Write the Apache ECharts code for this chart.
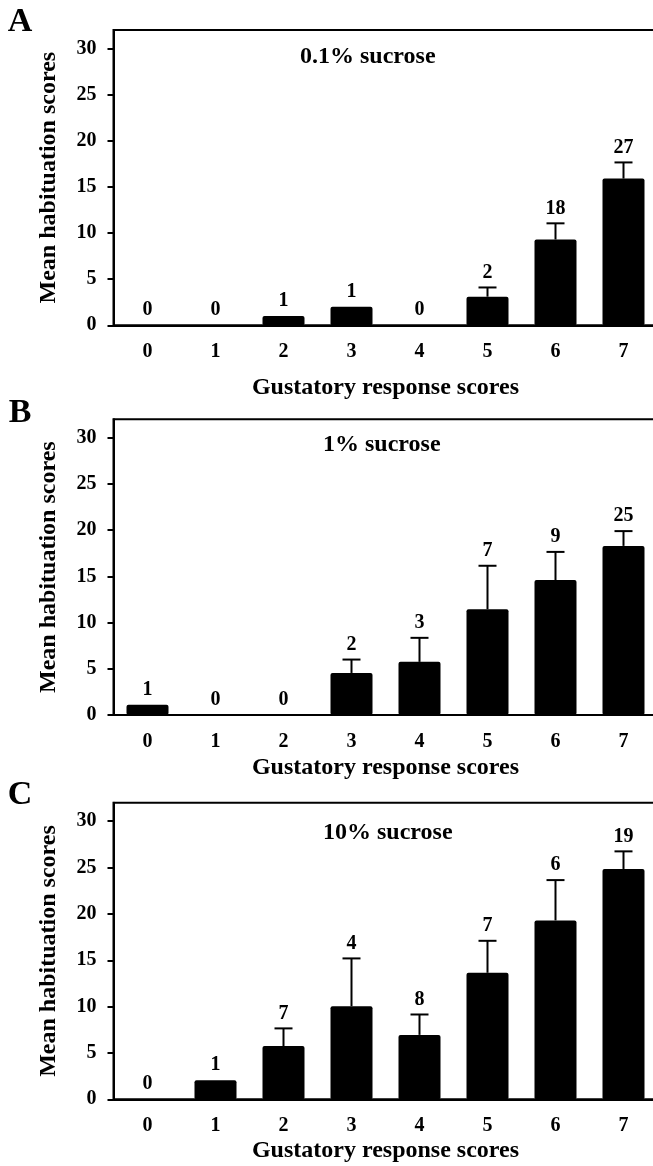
<!DOCTYPE html>
<html>
<head>
<meta charset="utf-8">
<script src="https://cdn.jsdelivr.net/npm/echarts@6/dist/echarts.min.js"></script>
<style>
  html, body { margin: 0; padding: 0; background: #fff; }
  #chart { width: 653px; height: 1166px; }
</style>
</head>
<body>
<div id="chart"></div>
<script>
// gustatory response score categories
const scores = ['0', '1', '2', '3', '4', '5', '6', '7'];
const yTicks = [0, 5, 10, 15, 20, 25, 30];

// A: 0.1% sucrose
const meanA = [0, 0, 1.0, 2.0, 0, 3.1, 9.3, 15.9];
const errA = [0, 0, 0, 0, 0, 1.0, 1.75, 1.75];
const nA = [0, 0, 1, 1, 0, 2, 18, 27];

// B: 1% sucrose
const meanB = [1.1, 0, 0, 4.55, 5.75, 11.45, 14.6, 18.3];
const errB = [0, 0, 0, 1.45, 2.6, 4.7, 3.05, 1.6];
const nB = [1, 0, 0, 2, 3, 7, 9, 25];

// C: 10% sucrose
const meanC = [0, 2.05, 5.75, 10.05, 6.95, 13.65, 19.3, 24.85];
const errC = [0, 0, 1.9, 5.15, 2.2, 3.45, 4.35, 1.9];
const nC = [0, 1, 7, 4, 8, 7, 6, 19];

const panelNames = ['A', 'B', 'C'];
const panelTitles = ['0.1% sucrose', '1% sucrose', '10% sucrose'];
const xName = 'Gustatory response scores';
const yName = 'Mean habituation scores';

const FONT = "'Liberation Serif', 'Times New Roman', serif";

const panels = [
  { mean: meanA, err: errA, n: nA, top: 30, height: 295.3, nameGap: 50 },
  { mean: meanB, err: errB, n: nB, top: 419.3, height: 295.7, nameGap: 41 },
  { mean: meanC, err: errC, n: nC, top: 802.7, height: 296.6, nameGap: 39 }
];

const chart = echarts.init(document.getElementById('chart'), null, { renderer: 'canvas' });

const grid = [];
const xAxis = [];
const yAxis = [];
const series = [];

panels.forEach((p, i) => {
  grid.push({
    left: 113.5,
    top: p.top,
    width: 544,
    height: p.height,
    outerBoundsMode: 'none',
    containLabel: false,
    show: true,
    borderColor: '#000',
    borderWidth: 2,
    backgroundColor: 'transparent'
  });

  xAxis.push({
    type: 'category',
    gridIndex: i,
    data: scores,
    name: xName,
    nameLocation: 'middle',
    nameGap: p.nameGap,
    nameTextStyle: { fontFamily: FONT, fontWeight: 'bold', fontSize: 24, color: '#000' },
    axisLine: { lineStyle: { color: '#000', width: 2 } },
    axisTick: { alignWithLabel: true, length: 6, lineStyle: { color: '#000', width: 2 } },
    axisLabel: { margin: 16.5, fontFamily: FONT, fontWeight: 'bold', fontSize: 20, color: '#000' }
  });

  yAxis.push({
    type: 'value',
    gridIndex: i,
    min: 0,
    max: 32,
    name: yName,
    nameLocation: 'middle',
    nameRotate: 90,
    nameGap: 53,
    nameTextStyle: { fontFamily: FONT, fontWeight: 'bold', fontSize: 24, color: '#000' },
    splitLine: { show: false },
    axisLine: { show: true, lineStyle: { color: '#000', width: 2 } },
    axisTick: { show: true, length: 6, customValues: yTicks, lineStyle: { color: '#000', width: 2 } },
    axisLabel: { margin: 17, customValues: yTicks, fontFamily: FONT, fontWeight: 'bold', fontSize: 20, color: '#000' }
  });

  series.push({
    type: 'bar',
    xAxisIndex: i,
    yAxisIndex: i,
    data: p.mean,
    barWidth: 42,
    itemStyle: { color: '#000', borderRadius: 2 },
    animation: false
  });

  // upper error bars plus sample size labels
  series.push({
    type: 'custom',
    xAxisIndex: i,
    yAxisIndex: i,
    data: p.mean.map((m, k) => [k, m, p.err[k], p.n[k]]),
    z: 5,
    animation: false,
    renderItem: function (params, api) {
      const idx = api.value(0);
      const m = api.value(1);
      const e = api.value(2);
      const n = api.value(3);
      const base = api.coord([idx, m]);
      const tip = api.coord([idx, m + e]);
      const children = [];
      if (e > 0) {
        children.push({
          type: 'line',
          shape: { x1: base[0], y1: base[1], x2: tip[0], y2: tip[1] },
          style: { stroke: '#000', lineWidth: 2 }
        });
        children.push({
          type: 'line',
          shape: { x1: tip[0] - 9, y1: tip[1], x2: tip[0] + 9, y2: tip[1] },
          style: { stroke: '#000', lineWidth: 2 }
        });
      }
      children.push({
        type: 'text',
        x: tip[0],
        y: tip[1] - 15,
        style: {
          text: String(n),
          fontFamily: FONT,
          fontWeight: 'bold',
          fontSize: 20,
          fill: '#000',
          align: 'center',
          verticalAlign: 'middle'
        }
      });
      return { type: 'group', children: children };
    }
  });
});

const graphic = [];
const letterY = [22, 413, 795];
const titleX = [300, 323, 323];
const titleY = [56.7, 445, 833];
panelNames.forEach((name, i) => {
  graphic.push({
    type: 'text',
    x: 20,
    y: letterY[i],
    style: {
      text: name,
      fontFamily: FONT,
      fontWeight: 'bold',
      fontSize: 34,
      fill: '#000',
      align: 'center',
      verticalAlign: 'middle'
    }
  });
  graphic.push({
    type: 'text',
    x: titleX[i],
    y: titleY[i],
    style: {
      text: panelTitles[i],
      fontFamily: FONT,
      fontWeight: 'bold',
      fontSize: 24,
      fill: '#000',
      align: 'left',
      verticalAlign: 'middle'
    }
  });
});

chart.setOption({
  backgroundColor: '#fff',
  animation: false,
  grid: grid,
  xAxis: xAxis,
  yAxis: yAxis,
  series: series,
  graphic: graphic
});
</script>
</body>
</html>
